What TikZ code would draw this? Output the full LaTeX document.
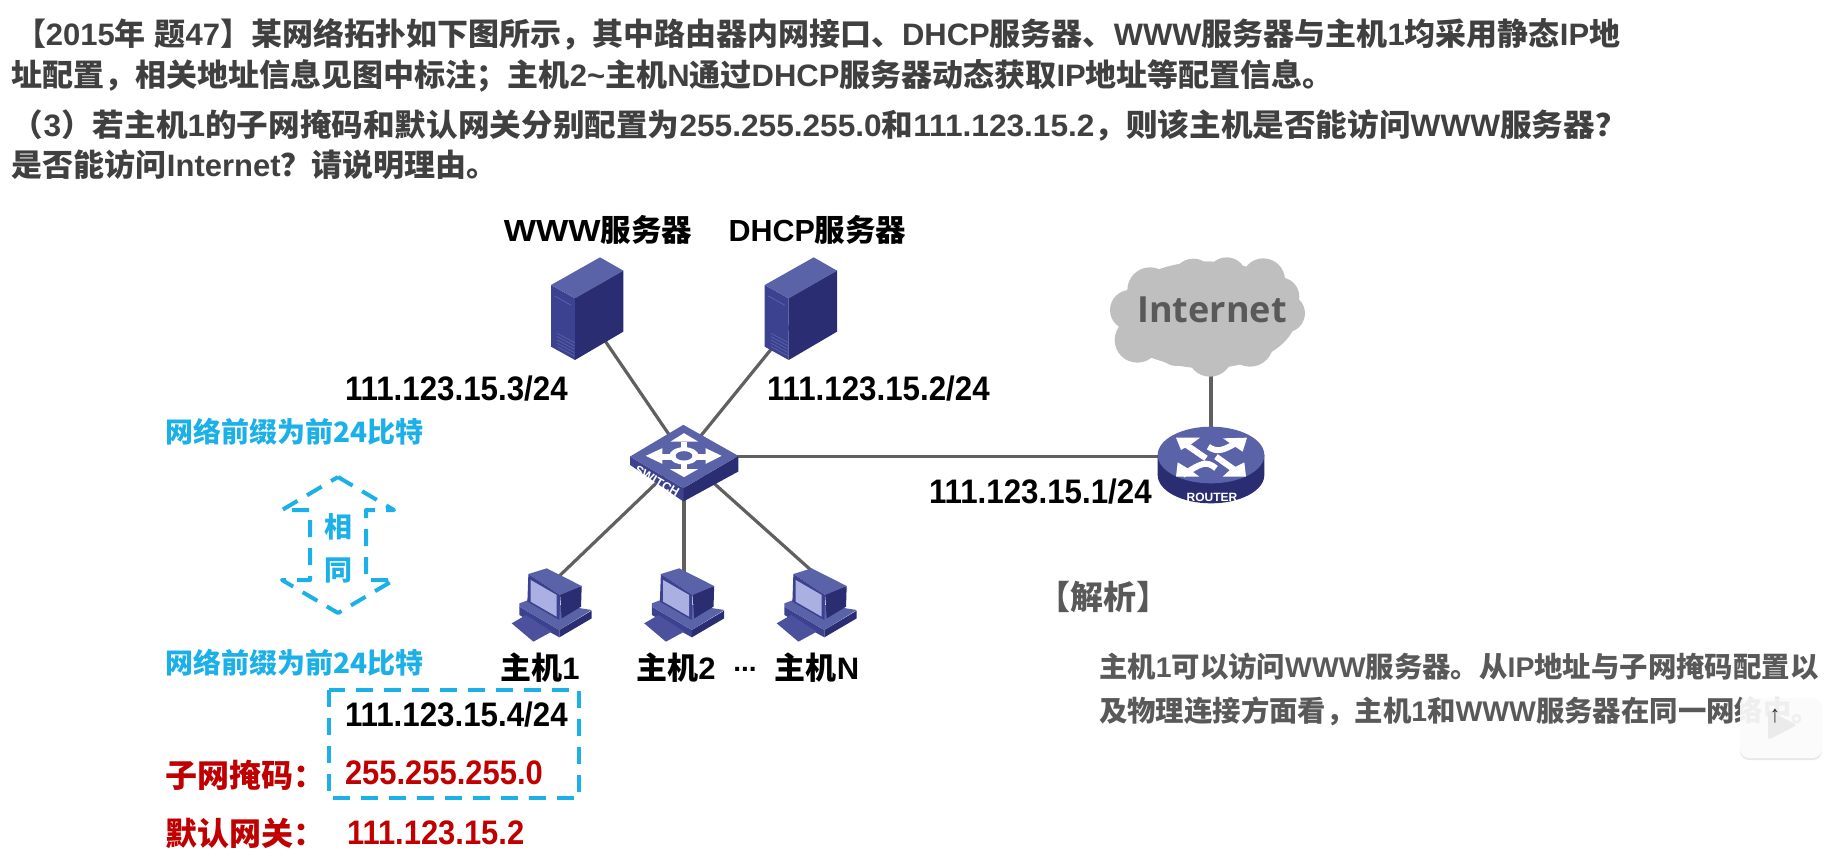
\documentclass[tikz,border=0pt]{standalone}
\usepackage{graphicx}
\usepackage{fontspec}
\setmainfont{Liberation Sans}
\newfontfamily\cj{Noto Sans CJK SC}
\newfontfamily\inetf{Open Sans}
\newcommand{\Zh}[1]{{\cj #1}}
\newcommand{\fz}[1]{\fontsize{#1}{#1}\selectfont\bfseries}
\newcommand{\sx}[2]{\scalebox{#1}[1]{#2}}
\definecolor{topface}{HTML}{5A62A8}
\definecolor{leftface}{HTML}{3C4190}
\definecolor{rightface}{HTML}{2B2D72}
\definecolor{keyc}{HTML}{4B519C}
\definecolor{screenc}{HTML}{AAB0E2}
\definecolor{cyanb}{HTML}{1CB0E8}
\definecolor{redt}{HTML}{C00000}
\definecolor{greyt}{HTML}{404040}
\definecolor{greya}{HTML}{595959}
\definecolor{linec}{HTML}{606060}
\definecolor{cloudc}{HTML}{BFBFBF}
\tikzset{
  x=1pt,y=-1pt,
  txt/.style={inner sep=0pt,outer sep=0pt,anchor=west},
  lab/.style={inner sep=0pt,outer sep=0pt,text=black,font=\fz{31}},
  ip/.style={inner sep=0pt,outer sep=0pt,anchor=west,text=black,font=\fz{34}},
  redip/.style={inner sep=0pt,outer sep=0pt,anchor=west,text=redt,font=\fz{34}},
  redzh/.style={inner sep=0pt,outer sep=0pt,anchor=west,text=redt,font=\fz{32}\cj},
  bluezh/.style={inner sep=0pt,outer sep=0pt,anchor=west,text=cyanb,font=\fz{28}\cj},
  blueone/.style={inner sep=0pt,outer sep=0pt,text=cyanb,font=\fz{28}\cj},
  head/.style={txt,text=greyt,font=\fz{31}},
  ana/.style={txt,text=greya,font=\fz{28.4}},
  wire/.style={draw=linec,line width=3.2pt},
  dashblue/.style={draw=cyanb,line width=4pt,line join=round,dash pattern=on 17pt off 11pt},
  pin/.style={coordinate},
  serverpic/.pic={
    \begin{scope}[x=.3333pt,y=-.3333pt]
      \fill[leftface] (-99,-75) -- (-27,-35) -- (-27,150) -- (-99,110) -- cycle;
      \fill[topface] (-99,-75) -- (48,-158) -- (118,-118) -- (-27,-35) -- cycle;
      \fill[rightface] (-27,-35) -- (118,-118) -- (118,65) -- (-27,150) -- cycle;
      \draw[topface,line width=.8pt] (-88,-42) -- (-38,-14);
      \foreach \d in {0,10,20,30,40}{
        \draw[topface,line width=.7pt] (-80,70+\d) -- (-28,98+\d);}
    \end{scope}
  },
  switchpic/.pic={
    \begin{scope}[x=.3333pt,y=-.3333pt]
      \fill[leftface] (-162,0) -- (-2,95) -- (-2,135) -- (-162,25) -- cycle;
      \fill[rightface] (-2,95) -- (163,-2) -- (163,45) -- (-2,135) -- cycle;
      \fill[topface] (-2,-95) -- (163,-2) -- (-2,95) -- (-162,0) -- cycle;
      \draw[white,line width=6pt] (-75,0) -- (75,0) (0,-45) -- (0,45);
      \fill[white] (-115,-2) -- (-65,-25) -- (-65,22) -- cycle;
      \fill[white] (113,-2) -- (65,-25) -- (65,22) -- cycle;
      \fill[white] (0,-70) -- (42,-45) -- (-40,-45) -- cycle;
      \fill[white] (0,62) -- (42,38) -- (-42,38) -- cycle;
      \fill[white] (0,-2) ellipse [x radius=44,y radius=26];
      \fill[topface] (0,-2) ellipse [x radius=25,y radius=14];
    \end{scope}
  },
  routerpic/.pic={
    \begin{scope}[x=.3333pt,y=-.3333pt]
      \fill[rightface] (-160,0) -- (-160,60) arc[start angle=180,end angle=360,x radius=160,y radius=-85] -- (160,0) -- cycle;
      \fill[topface] (0,0) ellipse [x radius=160,y radius=85];
      \draw[white,line width=6pt] (-15,10) -- (-85,-38);
      \draw[white,line width=6pt] (-8,-25) .. controls (20,-5) and (40,-15) .. (85,-42);
      \draw[white,line width=6pt] (15,5) -- (85,55);
      \draw[white,line width=6pt] (15,40) .. controls (-15,15) and (-30,25) .. (-85,60);
      \fill[white] (-105,-52) -- (-33,-52) -- (-60,-32) -- (-90,-15) -- cycle;
      \fill[white] (108,-52) -- (36,-50) -- (65,-30) -- (95,-10) -- cycle;
      \fill[white] (105,65) -- (35,65) -- (60,42) -- (100,22) -- cycle;
      \fill[white] (-105,65) -- (-35,65) -- (-62,45) -- (-100,22) -- cycle;
    \end{scope}
  },
  hostpic/.pic={
    \begin{scope}[x=.3333pt,y=-.3333pt]
      \fill[rightface] (23,75) -- (120,17) -- (120,40) -- (23,97) -- cycle;
      \fill[leftface] (-97,5) -- (23,75) -- (23,97) -- (-97,30) -- cycle;
      \fill[topface] (-97,-5) -- (-70,-15) -- (120,15) -- (23,75) -- (-97,5) -- cycle;
      \fill[keyc] (-120,55) -- (-77,30) -- (0,80) -- (-55,110) -- cycle;
      \fill[rightface] (25,-35) -- (90,-57) -- (88,5) -- (30,40) -- cycle;
      \fill[topface] (-70,-93) -- (-15,-110) -- (90,-57) -- (25,-30) -- cycle;
      \fill[leftface] (-70,-93) -- (25,-30) -- (23,45) -- (-73,-10) -- cycle;
      \fill[screenc] (-63,-75) -- (15,-30) -- (15,35) -- (-63,-10) -- cycle;
    \end{scope}
  },
}
\begin{document}
\begin{tikzpicture}
\useasboundingbox (0,0) rectangle (1826,860);
% connection pins
\node[pin] (srvA) at (584,310) {};
\node[pin] (srvB) at (803,310) {};
\node[pin] (sw) at (684,456.5) {};
\node[pin] (rt) at (1211,456.5) {};
\node[pin] (cloud) at (1211,320) {};
\node[pin] (hA) at (552,583) {};
\node[pin] (hB) at (684,583) {};
\node[pin] (hC) at (822,580) {};
% connectors
\draw[wire] (sw) -- (srvA);
\draw[wire] (sw) -- (srvB);
\draw[wire] (sw) -- (rt);
\draw[wire] (cloud) -- (rt);
\draw[wire] (sw) -- (hA);
\draw[wire] (sw) -- (hB);
\draw[wire] (sw) -- (hC);
% devices
\pic at (584,310) {serverpic};
\pic at (797.7,310) {serverpic};
\pic at (684,456.5) {switchpic};
\pic at (1211,455) {routerpic};
\pic at (551.7,605) {hostpic};
\pic at (684.2,605) {hostpic};
\pic at (816.7,605) {hostpic};
% cloud
\begin{scope}[shift={(1050,230)},x=.3333pt,y=-.3333pt]
  \fill[cloudc] (470,255) ellipse [x radius=270,y radius=160];
  \fill[cloudc] (470,200) ellipse [x radius=230,y radius=105];
  \fill[cloudc] (450,320) ellipse [x radius=220,y radius=85];
  \foreach \cx/\cy/\r in {300/180/68,430/148/62,530/142/60,640/150/65,690/200/58,708/250/57,240/240/60,262/330/68,380/350/58,480/372/68,600/340/70}{
    \fill[cloudc] (\cx,\cy) circle [radius=\r];}
\end{scope}
\node[inner sep=0pt,text=greya,font=\fontsize{36}{36}\selectfont\bfseries\inetf] (inet) at (1212,310) {Internet};
\node[inner sep=0pt,rotate=-30,text=white,font=\fontsize{12.5}{12.5}\selectfont\bfseries] (swt) at (657,481) {SWITCH};
\node[inner sep=0pt,text=white,font=\fontsize{12}{12}\selectfont\bfseries] (rtt) at (1212,497) {ROUTER};
% heading
\node[head] (l1) at (15,34) {\Zh{【}2015\Zh{年} \Zh{题}47\Zh{】某网络拓扑如下图所示，其中路由器内网接口、}DHCP\Zh{服务器、}WWW\Zh{服务器与主机}1\Zh{均采用静态}IP\Zh{地}};
\node[head] (l2) at (12,76) {\Zh{址配置，相关地址信息见图中标注；主机}2\textasciitilde\Zh{主机}N\Zh{通过}DHCP\Zh{服务器动态获取}IP\Zh{地址等配置信息。}};
\node[head] (l3) at (12,125) {\sx{1.02}{\Zh{（}3\Zh{）若主机}1\Zh{的子网掩码和默认网关分别配置为}255.255.255.0\Zh{和}111.123.15.2\Zh{，则该主机是否能访问}WWW\Zh{服务器？}}};
\node[head] (l4) at (12,165) {\Zh{是否能访问}Internet\Zh{？请说明理由。}};
% device labels
\node[lab,font=\fz{30.5}] (wwwl) at (598,230) {\sx{1.12}{WWW}\Zh{服务器}};
\node[lab,font=\fz{30.5}] (dhcpl) at (817.5,230) {DHCP\Zh{服务器}};
\node[lab] (h1l) at (540,668) {\Zh{主机}1};
\node[lab] (h2l) at (676,668) {\Zh{主机}2};
\node[lab,font=\fz{28}] (dots) at (745,669) {...};
\node[lab] (hnl) at (817,668) {\Zh{主机}N};
% addresses
\node[ip] (ipa) at (345,389) {\sx{.92}{111.123.15.3/24}};
\node[ip] (ipb) at (767,389) {\sx{.92}{111.123.15.2/24}};
\node[ip] (ipc) at (929,492) {\sx{.92}{111.123.15.1/24}};
\node[ip] (ipd) at (345,715) {\sx{.92}{111.123.15.4/24}};
\node[redip] (mask) at (345,773) {\sx{.91}{255.255.255.0}};
\node[redip] (gw) at (347,833) {\sx{.91}{111.123.15.2}};
\node[redzh] (maskl) at (165,775) {子网掩码：};
\node[redzh] (gwl) at (165,833) {默认网关：};
% prefix annotation
\node[bluezh] (pa) at (165,432) {网络前缀为前24比特};
\node[bluezh] (pb) at (165,663) {网络前缀为前24比特};
\draw[dashblue] (338,477) -- (394,510) -- (366,510) -- (366,580) -- (394,580) -- (338,613) -- (282,580) -- (310,580) -- (310,510) -- (282,510) -- cycle;
\node[blueone] (same1) at (338,527) {相};
\node[blueone] (same2) at (338,570) {同};
\draw[dashblue] (329,690) rectangle (579,798);
% analysis
\node[inner sep=0pt,text=greya,font=\fz{33}\cj] (jx) at (1103,597) {【解析】};
\node[ana] (a1) at (1099,667) {\Zh{主机}1\Zh{可以访问}WWW\Zh{服务器。从}IP\Zh{地址与子网掩码配置以}};
\node[ana] (a2) at (1099,711) {\Zh{及物理连接方面看，主机}1\Zh{和}WWW\Zh{服务器在同一网络中。}};
% player overlay
\fill[black!18,fill opacity=.5,rounded corners=9pt] (1740,698) rectangle (1822,760);
\fill[white,fill opacity=.85,rounded corners=9pt] (1740,695) rectangle (1822,758);
\fill[white,fill opacity=.85] (1760,682) -- (1766,682) -- (1776,695) -- (1766,695) -- cycle;
\fill[white,fill opacity=.85] (1802,682) -- (1796,682) -- (1786,695) -- (1796,695) -- cycle;
\fill[black!8,rounded corners=3pt] (1768,710) -- (1797,725) -- (1768,740) -- cycle;
\node[inner sep=0pt,text=black!80,font=\fontsize{24}{24}\selectfont\bfseries] (up) at (1775,716) {\sx{.9}{↑}};
\end{tikzpicture}
\end{document}
